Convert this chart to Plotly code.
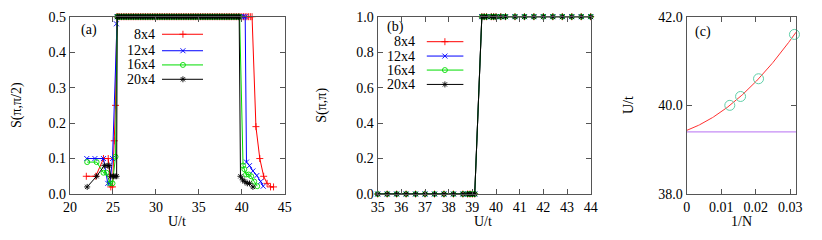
import numpy as np
import plotly.graph_objects as go

# ---------------- data: panel (a) ----------------
U_plateau = [25.6, 25.8, 26.0, 26.2, 26.4, 26.6, 26.8, 27.0, 27.2, 27.4, 27.6, 27.8,
             28.0, 28.2, 28.4, 28.6, 28.8, 29.0, 29.2, 29.4, 29.6, 29.8, 30.0, 30.2,
             30.4, 30.6, 30.8, 31.0, 31.2, 31.4, 31.6, 31.8, 32.0, 32.2, 32.4, 32.6,
             32.8, 33.0, 33.2, 33.4, 33.6, 33.8, 34.0, 34.2, 34.4, 34.6, 34.8, 35.0,
             35.2, 35.4, 35.6, 35.8, 36.0, 36.2, 36.4, 36.6, 36.8, 37.0, 37.2, 37.4,
             37.6, 37.8, 38.0, 38.2, 38.4, 38.6, 38.8, 39.0, 39.2, 39.4, 39.6]
S_plateau = 0.5

a_left_U = {
    "8x4":  [21.9, 23.0, 23.9, 24.45, 24.75, 24.95, 25.15, 25.3, 25.45],
    "12x4": [21.95, 22.9, 23.9, 24.4, 24.65, 24.95, 25.4, 25.5],
    "16x4": [22.0, 23.1, 23.9, 24.25, 24.65, 24.95, 25.3, 25.5],
    "20x4": [22.0, 23.1, 24.0, 24.4, 24.55, 24.75, 25.05, 25.25, 25.43, 25.5],
}
a_left_S = {
    "8x4":  [0.05, 0.05, 0.10, 0.10, 0.02, 0.02, 0.15, 0.25, 0.50],
    "12x4": [0.10, 0.10, 0.10, 0.03, 0.03, 0.10, 0.48, 0.50],
    "16x4": [0.09, 0.09, 0.06, 0.06, 0.03, 0.03, 0.105, 0.50],
    "20x4": [0.02, 0.05, 0.08, 0.08, 0.08, 0.05, 0.05, 0.05, 0.05, 0.50],
}
a_right_U = {
    "8x4":  [39.8, 40.0, 40.2, 40.4, 40.6, 40.8, 41.0, 41.2, 41.65, 42.1, 42.55, 42.95, 43.35, 43.7],
    "12x4": [39.8, 40.0, 40.2, 40.4, 40.55, 40.9, 41.3, 41.75, 42.2, 42.5],
    "16x4": [39.75, 40.15, 40.3, 40.5, 40.8, 41.1, 41.45, 41.8],
    "20x4": [39.7, 39.85, 40.1, 40.35, 40.65, 40.9, 41.3],
}
a_right_S = {
    "8x4":  [0.5, 0.5, 0.5, 0.5, 0.5, 0.5, 0.5, 0.5, 0.19, 0.10, 0.05, 0.03, 0.02, 0.02],
    "12x4": [0.5, 0.5, 0.5, 0.5, 0.09, 0.08, 0.065, 0.052, 0.035, 0.022],
    "16x4": [0.5, 0.08, 0.07, 0.055, 0.055, 0.05, 0.035, 0.022],
    "20x4": [0.5, 0.05, 0.04, 0.035, 0.03, 0.03, 0.02],
}

# ---------------- data: panel (b) ----------------
b_U = [35.0, 35.4, 35.8, 36.2, 36.6, 37.0, 37.4, 37.8, 38.2, 38.6, 38.8, 38.9, 39.0, 39.1,
       39.4, 39.5, 39.6, 39.8, 39.9, 40.0, 40.2, 40.4, 40.8, 41.2, 41.6, 42.0, 42.4,
       42.8, 43.2, 43.6, 44.0]
b_S = [0, 0, 0, 0, 0, 0, 0, 0, 0, 0, 0, 0, 0, 0,
       1, 1, 1, 1, 1, 1, 1, 1, 1, 1, 1, 1, 1, 1, 1, 1, 1]

# ---------------- data: panel (c) ----------------
c_invN = [1 / 80, 1 / 64, 1 / 48, 1 / 32]
c_Uc = [40.0, 40.2, 40.6, 41.6]
c_Uinf = 39.4
c_xmax = 0.0317

sizes = ["8x4", "12x4", "16x4", "20x4"]
colors = {"8x4": "#ff0000", "12x4": "#0000ff", "16x4": "#00dd00", "20x4": "#000000"}
symbols = {"8x4": "cross-thin-open", "12x4": "x-thin-open", "16x4": "circle-open",
           "20x4": "asterisk-open"}

W, H = 822, 240
OFF = 8  # page body margin in the browser
FONT = "Liberation Serif"
FRAME = "#555555"


def px_x(p):
    return (p - OFF) / W


def px_y(p):
    return 1 - (p - OFF) / H


yb, yt = px_y(194), px_y(16.7)
dom_a = [px_x(70), px_x(284.7)]
dom_b = [px_x(377.7), px_x(590.7)]
dom_c = [px_x(686.7), px_x(796)]

fig = go.Figure()


def mk(c, sym, size=5):
    return dict(color=c, size=size, symbol=sym, line=dict(color=c, width=0.9))


# panel (a)
for s in sizes:
    U = a_left_U[s] + U_plateau + a_right_U[s]
    S = a_left_S[s] + [S_plateau] * len(U_plateau) + a_right_S[s]
    fig.add_trace(go.Scatter(x=U, y=S, mode="lines+markers", xaxis="x", yaxis="y",
                             line=dict(color=colors[s], width=1),
                             marker=mk(colors[s], symbols[s]), showlegend=False,
                             cliponaxis=False))

# panel (b)
for s in sizes:
    fig.add_trace(go.Scatter(x=b_U, y=b_S, mode="lines+markers", xaxis="x2", yaxis="y2",
                             line=dict(color=colors[s], width=1),
                             marker=mk(colors[s], symbols[s]), showlegend=False,
                             cliponaxis=False))

# panel (c)
coef = np.polyfit(c_invN, c_Uc, 2)
xf = np.linspace(0, c_xmax, 120)
fig.add_trace(go.Scatter(x=[0, c_xmax], y=[c_Uinf, c_Uinf], mode="lines", xaxis="x3", yaxis="y3",
                         line=dict(color="#c58cf5", width=1.3), showlegend=False))
fig.add_trace(go.Scatter(x=xf, y=np.polyval(coef, xf), mode="lines", xaxis="x3", yaxis="y3",
                         line=dict(color="#ff3030", width=1), showlegend=False))
fig.add_trace(go.Scatter(x=c_invN, y=c_Uc, mode="markers", xaxis="x3", yaxis="y3",
                         marker=dict(color="#5fcfa8", size=10, symbol="circle-open",
                                     line=dict(color="#5fcfa8", width=1)),
                         showlegend=False, cliponaxis=False))

# legend samples (overlay axes in domain fractions)
leg_rows_a = [0.901, 0.808, 0.728, 0.647]
leg_rows_b = [0.859, 0.778, 0.699, 0.618]
leg_geom = {
    "a": dict(xa="x4", ya="y4", x0=0.4285, x1=0.6195, xm=0.526, xt=0.405,
              rows=leg_rows_a, ref="x", yref="y"),
    "b": dict(xa="x5", ya="y5", x0=0.2305, x1=0.4023, xm=0.3155, xt=0.186,
              rows=leg_rows_b, ref="x2", yref="y2"),
}
annotations = []
for key, g in leg_geom.items():
    for s, r in zip(sizes, g["rows"]):
        fig.add_trace(go.Scatter(x=[g["x0"], g["x1"]], y=[r, r], mode="lines",
                                 xaxis=g["xa"], yaxis=g["ya"],
                                 line=dict(color=colors[s], width=1), showlegend=False))
        fig.add_trace(go.Scatter(x=[g["xm"]], y=[r], mode="markers",
                                 xaxis=g["xa"], yaxis=g["ya"],
                                 marker=mk(colors[s], symbols[s]), showlegend=False))
        annotations.append(dict(x=g["xt"], y=r, xref=g["ref"] + " domain",
                                yref=g["yref"] + " domain",
                                text=s, showarrow=False, xanchor="right", yanchor="middle",
                                font=dict(size=14, family=FONT, color="black")))

# panel labels
for txt, xp, yp in [("(a)", 79, 30), ("(b)", 385, 27), ("(c)", 692.7, 32)]:
    annotations.append(dict(x=px_x(xp), y=px_y(yp), xref="paper", yref="paper", text=txt,
                            showarrow=False, xanchor="left", yanchor="middle",
                            font=dict(size=14, family=FONT, color="black")))

# axis titles
for txt, xp, yp, ang in [("S(π,π/2)", 17, 105, -90), ("U/t", 176.7, 221, 0),
                         ("S(π,π)", 321.7, 105, -90), ("U/t", 483, 221, 0),
                         ("U/t", 628, 105, -90), ("1/N", 741.7, 221, 0)]:
    annotations.append(dict(x=px_x(xp), y=px_y(yp), xref="paper", yref="paper", text=txt,
                            showarrow=False, xanchor="center", yanchor="middle", textangle=ang,
                            font=dict(size=14, family=FONT, color="black")))

axis_common = dict(showline=True, linecolor=FRAME, linewidth=1.2, mirror="allticks",
                   ticks="inside", ticklen=5, tickcolor=FRAME, showgrid=False,
                   zeroline=False, automargin=False,
                   tickfont=dict(size=14, family=FONT, color="black"))

fig.update_layout(
    width=W, height=H, margin=dict(l=0, r=0, t=0, b=0),
    paper_bgcolor="white", plot_bgcolor="white",
    font=dict(family=FONT, size=14, color="black"),
    annotations=annotations,
    xaxis=dict(domain=dom_a, anchor="y", range=[20, 45], tickvals=[20, 25, 30, 35, 40, 45],
               **axis_common),
    yaxis=dict(domain=[yb, yt], anchor="x", range=[0, 0.5], tickvals=[0, 0.1, 0.2, 0.3, 0.4, 0.5],
               tickformat=".1f", **axis_common),
    xaxis2=dict(domain=dom_b, anchor="y2", range=[35, 44], tickvals=list(range(35, 45)),
                **axis_common),
    yaxis2=dict(domain=[yb, yt], anchor="x2", range=[0, 1], tickvals=[0, 0.2, 0.4, 0.6, 0.8, 1.0],
                tickformat=".1f", **axis_common),
    xaxis3=dict(domain=dom_c, anchor="y3", range=[0, c_xmax], tickvals=[0, 0.01, 0.02, 0.03],
                ticktext=["0", "0.01", "0.02", "0.03"], **axis_common),
    yaxis3=dict(domain=[yb, yt], anchor="x3", range=[38, 42], tickvals=[38, 40, 42],
                tickformat=".1f", **axis_common),
    xaxis4=dict(overlaying="x", anchor="y4", range=[0, 1], visible=False, fixedrange=True),
    yaxis4=dict(overlaying="y", anchor="x4", range=[0, 1], visible=False, fixedrange=True),
    xaxis5=dict(overlaying="x2", anchor="y5", range=[0, 1], visible=False, fixedrange=True),
    yaxis5=dict(overlaying="y2", anchor="x5", range=[0, 1], visible=False, fixedrange=True),
)

fig.write_html("out.html")
